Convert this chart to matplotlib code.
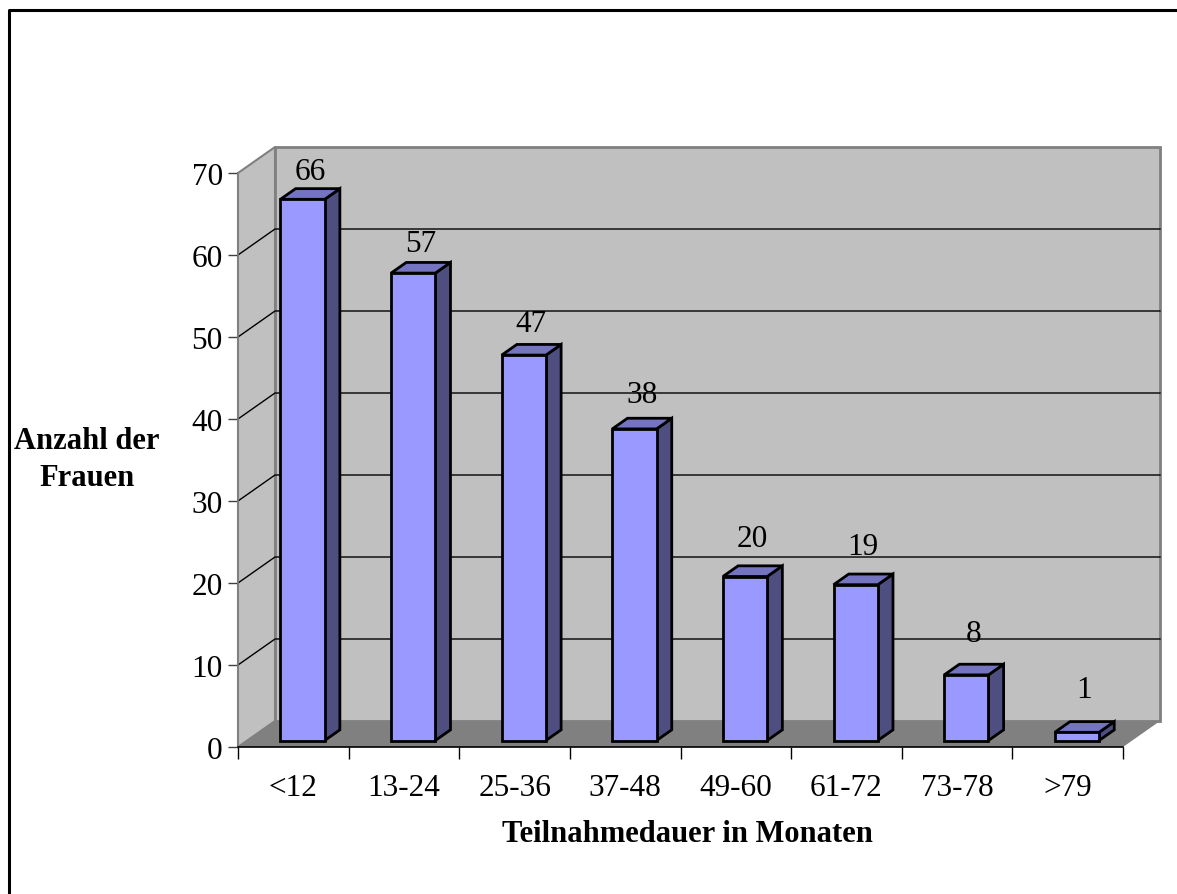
import matplotlib
matplotlib.use('Agg')

import matplotlib.pyplot as plt
from matplotlib.patches import Polygon
from matplotlib.lines import Line2D

plt.rcParams['font.family'] = ['Liberation Serif', 'DejaVu Serif']

categories = ['<12', '13-24', '25-36', '37-48', '49-60', '61-72', '73-78', '>79']
counts     = [66, 57, 47, 38, 20, 19, 8, 1]
y_ticks    = [0, 10, 20, 30, 40, 50, 60, 70]

x_title = 'Teilnahmedauer in Monaten'
y_title = 'Anzahl der\nFrauen'

# Oblique depth of the box (in data units) and bar placement inside it
DX, DY = 0.3345, 3.17
bar_w = 0.4
bar_front = 0.25
bar_depth = 0.41
fs = 22.5
fs_title = 22

fig = plt.figure(figsize=(11.77, 8.95), dpi=100)
ax = fig.add_axes([238/1177, 147/895, 885/1177, 574/895])
n = len(categories)
ymax = y_ticks[-1]
ax.set_xlim(0, n)
ax.set_ylim(0, ymax)

# Walls and floor
side = Polygon([(0, 0), (0, ymax), (DX, ymax+DY), (DX, DY)], closed=True,
               facecolor='#C0C0C0', edgecolor='#808080', lw=1.5, zorder=1, clip_on=False)
back = Polygon([(DX, DY), (DX, ymax+DY), (n+DX, ymax+DY), (n+DX, DY)], closed=True,
               facecolor='#C0C0C0', edgecolor='#808080', lw=2, zorder=1, clip_on=False)
floor = Polygon([(0, 0), (DX, DY), (n+DX, DY), (n, 0)], closed=True,
                facecolor='#808080', edgecolor='none', zorder=1.2, clip_on=False)
for p in (side, back, floor):
  ax.add_patch(p)

for v in y_ticks[1:-1]:
  ax.plot([0, DX, n+DX], [v, v+DY, v+DY], color='black', lw=1, zorder=1.1, clip_on=False)

# Bars as front/side/top faces
ddx, ddy = bar_depth*DX, bar_depth*DY
for i, v in enumerate(counts):
  x0 = i + 0.5 - bar_w/2 + bar_front*DX
  y0 = bar_front*DY
  x1 = x0 + bar_w
  kw = dict(closed=True, edgecolor='black', lw=2, joinstyle='miter', zorder=3, clip_on=False)
  ax.add_patch(Polygon([(x1, y0), (x1+ddx, y0+ddy), (x1+ddx, y0+v+ddy), (x1, y0+v)],
                       facecolor='#4E4E80', **kw))
  ax.add_patch(Polygon([(x0, y0+v), (x1, y0+v), (x1+ddx, y0+v+ddy), (x0+ddx, y0+v+ddy)],
                       facecolor='#7474C1', **kw))
  ax.add_patch(Polygon([(x0, y0), (x1, y0), (x1, y0+v), (x0, y0+v)],
                       facecolor='#9999FF', **kw))
  ax.text(i + 0.5 + bar_front*DX + ddx/2, 0.972*v + 5.1, str(v),
          ha='center', va='baseline', fontsize=fs, zorder=4)

# Axes
for s in ('top', 'right'):
  ax.spines[s].set_visible(False)
ax.spines['left'].set_color('#808080')
ax.spines['left'].set_linewidth(1.2)
ax.spines['bottom'].set_color('black')
ax.spines['bottom'].set_linewidth(1.2)
ax.spines['left'].set_zorder(2)
ax.spines['bottom'].set_zorder(2)
ax.patch.set_visible(False)

ax.set_yticks(y_ticks)
ax.set_yticklabels([str(t) for t in y_ticks], fontsize=fs)
ax.tick_params(axis='y', direction='out', length=7, width=1, color='#404040', pad=4)

ax.set_xticks(range(n + 1))
ax.set_xticklabels([''] * (n + 1))
ax.set_xticks([i + 0.5 for i in range(n)], minor=True)
ax.set_xticklabels(categories, minor=True, fontsize=fs)
ax.tick_params(axis='x', which='major', direction='out', length=8.5, width=1, color='black')
ax.tick_params(axis='x', which='minor', length=0, pad=19)

fig.text(687/1177, 1 - 835/895, x_title, ha='center', va='center',
         fontsize=fs_title, fontweight='bold')
fig.text(87/1177, 1 - 460/895, y_title, ha='center', va='center',
         fontsize=fs_title, fontweight='bold', linespacing=1.38)

# Frame lines on top and left
fig.add_artist(Line2D([9/1177, 9/1177, 1], [0, 1 - 11/895, 1 - 11/895],
                      color='black', lw=2.2, transform=fig.transFigure))

fig.savefig('out.png', dpi=100)
